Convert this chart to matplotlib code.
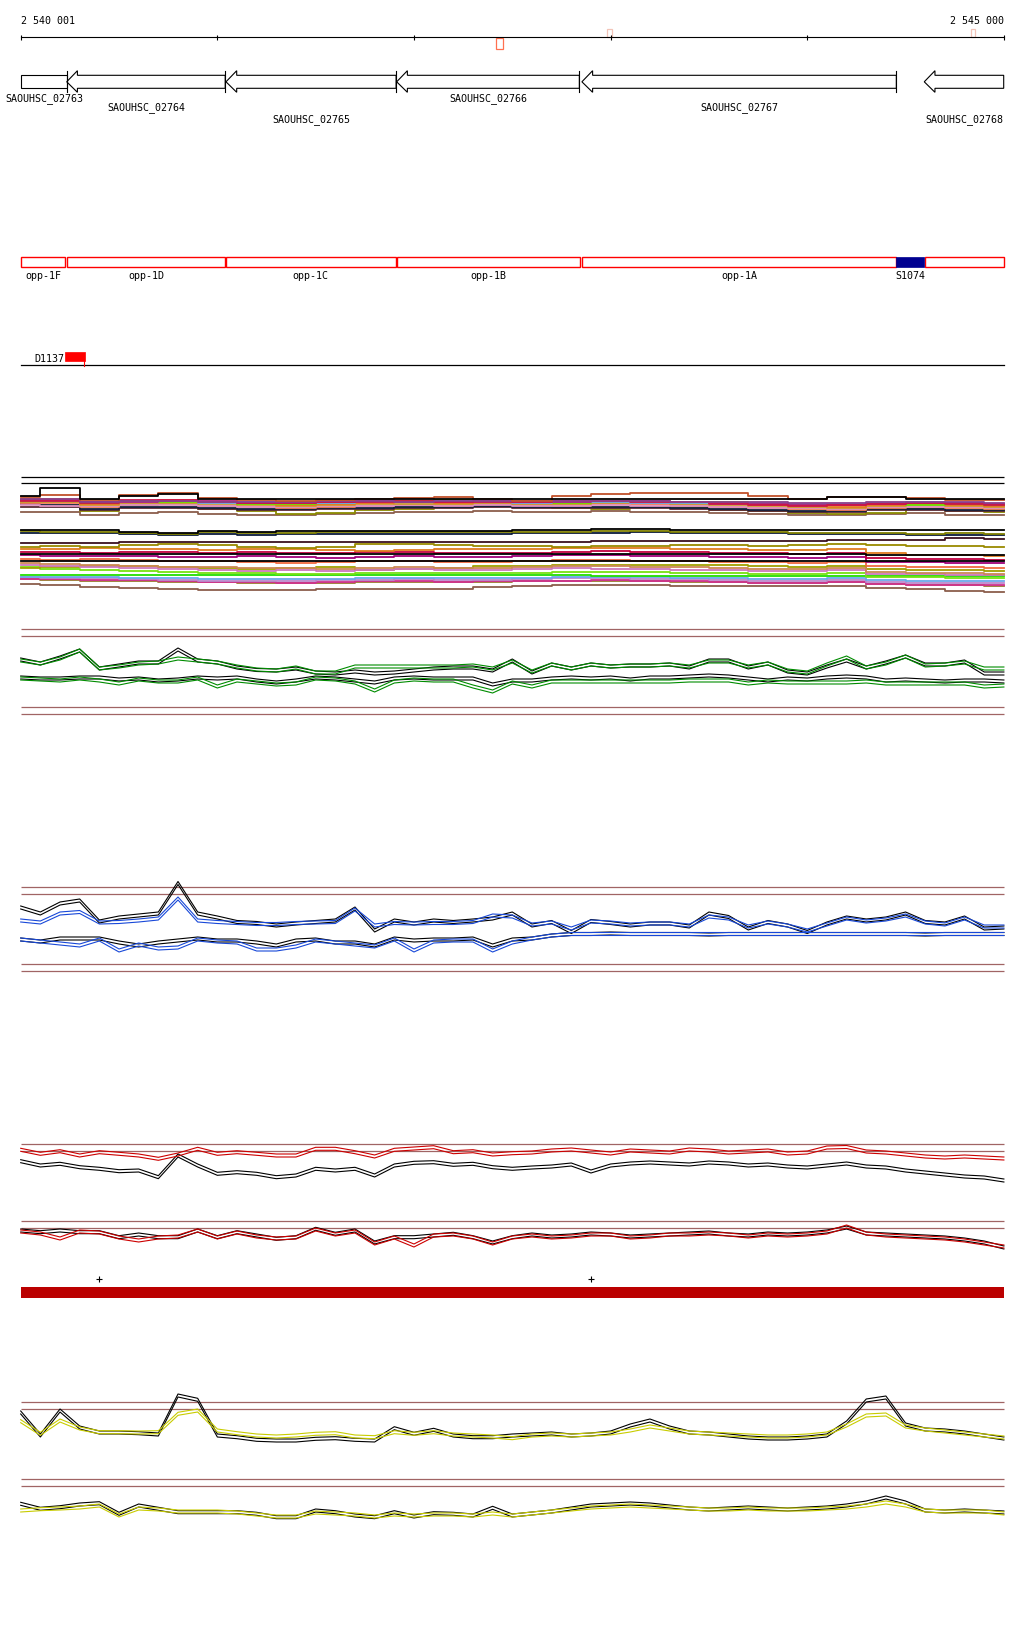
import numpy as np
import matplotlib
matplotlib.use('Agg')
import matplotlib.pyplot as plt
from matplotlib.patches import Polygon, Rectangle
from matplotlib.transforms import offset_copy

# ---- view window ----
W, H = 1024, 1640
VIEW_START, VIEW_END = 2540001, 2545000
PX0, PX1 = 20.7, 1003.7          # where the view starts / ends on the page
bp_per_px = (VIEW_END - VIEW_START) / (PX1 - PX0)
XMIN = VIEW_START - PX0 * bp_per_px
XMAX = XMIN + W * bp_per_px

# ---- annotation data ----
ruler_ticks = [2540001, 2541001, 2542001, 2543001, 2544001, 2545000]

gene_names = ['SAOUHSC_02763', 'SAOUHSC_02764', 'SAOUHSC_02765',
              'SAOUHSC_02766', 'SAOUHSC_02767', 'SAOUHSC_02768']
gene_starts = [2540001, 2540235, 2541045, 2541913, 2542855, 2544596]
gene_ends = [2540238, 2541041, 2541910, 2542842, 2544454, 2545000]

feat_names = ['opp-1F', 'opp-1D', 'opp-1C', 'opp-1B', 'opp-1A', '']
feat_starts = [2540001, 2540238, 2541043, 2541913, 2542857, 2544599]
feat_ends = [2540228, 2541041, 2541910, 2542844, 2544454, 2545000]
srna_name, srna_start, srna_end = 'S1074', 2544454, 2544595
dmark_name, dmark_start, dmark_end = 'D1137', 2540228, 2540328
plus_marks = [2540399, 2542901]

# ---- coloured expression band (every 200 bp) ----
cb_black_top = [27, 19, 29.5, 27, 25, 29.5, 29.5, 29.5, 29.5, 29.5, 29.5, 29.5, 29.5, 29.5, 29.5, 29.5, 29.5, 29.5, 29.5, 29.5, 29.5, 27.5, 27.5, 29.5, 29.5, 29.5]
cb_rust = [28, 26, 31, 26, 24, 29, 31, 32, 31, 30, 29, 28, 30, 32, 27, 25, 23.5, 23.5, 24, 27, 30, 28, 28, 29, 31, 31]
cb_olive = [33, 32, 42, 36, 35, 40, 42, 45, 44, 41, 40, 38, 36, 37, 39, 40, 38, 38, 41, 42, 44, 45, 44, 39, 42, 43]
cb_brown = [43, 43, 46, 44, 43, 45, 46, 46, 45, 44, 43, 43, 42, 43, 43, 42, 43, 43, 44, 45, 46, 46, 45, 44, 46, 46]
cb_orange = [30, 30, 35, 32, 31, 33, 35, 36, 35, 34, 33, 34, 33, 34, 34, 33, 32, 33, 35, 36, 37, 38, 36, 35, 36, 37]
cb_magenta = [31, 31, 33, 33, 32, 32, 34, 34, 33, 32, 33, 33, 32, 33, 33, 32, 32, 33, 34, 35, 36, 36, 35, 34, 34, 35]
cb_lime = [32, 31, 34, 32, 33, 33, 35, 35, 34, 33, 32, 31, 32, 33, 34, 33, 33, 34, 33, 35, 36, 35, 34, 36, 35, 36]
cb_sky = [31, 32, 33, 33, 32, 34, 33, 34, 34, 33, 33, 32, 33, 34, 33, 33, 34, 34, 35, 34, 35, 35, 34, 33, 34, 35]
cb_purple = [30, 30, 33, 32, 32, 33, 33, 33, 32, 32, 33, 32, 32, 32, 32, 32, 32, 33, 33, 33, 34, 34, 33, 33, 33, 34]
cb_salmon = [34, 34, 38, 35, 34, 37, 38, 39, 38, 37, 36, 36, 35, 36, 36, 35, 35, 36, 38, 39, 40, 41, 39, 38, 39, 40]
cb_navy = [35, 36, 40, 38, 38, 39, 40, 40, 39, 39, 38, 38, 37, 38, 38, 38, 38, 39, 40, 41, 42, 42, 40, 40, 41, 41]
cb_pink = [36, 37, 37, 36, 36, 37, 38, 38, 37, 37, 36, 37, 36, 37, 37, 36, 37, 37, 38, 39, 39, 40, 38, 38, 38, 39]
cb_gold = [33, 33, 36, 34, 34, 35, 36, 37, 36, 35, 35, 35, 34, 35, 35, 34, 34, 35, 36, 37, 38, 39, 37, 36, 37, 38]
cb_crimson = [32, 32, 34, 31, 31, 33, 34, 34, 33, 33, 32, 33, 33, 33, 32, 32, 33, 33, 35, 36, 37, 36, 35, 34, 35, 36]
cb_maroon = [38, 38, 41, 39, 39, 40, 41, 41, 40, 40, 39, 39, 38, 39, 39, 39, 39, 40, 41, 42, 43, 43, 41, 41, 42, 42]

cl_black1 = [60.5, 61, 61, 63, 63.5, 62, 62.5, 61.5, 61.5, 62, 62, 62, 61.5, 61, 61, 60, 60, 60.5, 60.5, 61, 60.5, 61, 61, 61, 60.5, 61]
cl_olive = [62, 62.5, 63, 63.5, 64.5, 63, 64, 63.5, 63, 62.5, 63, 62.5, 62.5, 62.5, 62.5, 62, 62, 62.5, 63, 63, 63.5, 64, 64, 64.5, 64, 64.5]
cl_navy = [63.5, 64, 64, 64.5, 65.5, 65, 65.5, 65, 64.5, 65, 64.5, 65, 65, 64, 63.5, 63.5, 63, 63.5, 64, 64, 65, 65, 65, 66, 66, 66]
cl_maroon = [74, 74, 74, 73, 73, 73, 73, 73, 72.5, 72.5, 73, 73, 73, 73, 73, 72, 72, 71.5, 71.5, 72, 72, 71, 71, 70.5, 69, 70]
cl_olive2 = [78, 77, 78, 76, 75, 76, 78, 79, 78, 75, 75, 76, 77, 77, 78, 77, 77, 76, 76, 77, 76, 75, 76, 77, 77, 78]
cl_orange = [80, 80, 79, 80, 80, 81, 80, 80, 81, 82, 81, 80, 80, 80, 79, 79, 79, 80, 80, 81, 81, 80, 84, 86, 86, 87]
cl_crimson = [83, 83, 84, 83, 83, 84, 83, 84, 84, 83, 83, 84, 84, 84, 83, 82, 83, 83, 84, 84, 85, 84, 89, 90, 90, 91]
cl_black2 = [85, 85, 85, 85, 85, 85, 85, 85, 85, 85, 85, 85, 85, 85, 85, 85, 85, 85, 85, 85, 85, 85, 85.5, 85.5, 85.5, 85.5]
cl_magenta = [86, 87, 87, 87, 88, 88, 87, 88, 89, 88, 87, 88, 88, 87, 86, 86, 87, 87, 88, 88, 89, 88, 93, 93, 94, 94]
cl_black3 = [92, 92, 92, 92, 92, 92, 92, 92, 92, 92, 92, 92, 92, 92, 92, 92, 92, 92, 92, 92, 92, 92, 92, 92, 92, 92]
cl_salmon = [90, 91, 90, 91, 92, 92, 93, 94, 93, 92, 92, 93, 93, 92, 91, 91, 92, 92, 93, 93, 94, 93, 97, 98, 98, 99]
cl_lime = [98, 100, 101, 102, 103, 104, 104, 105, 105, 104, 104, 104, 104, 104, 103, 103, 103, 104, 104, 105, 105, 104, 108, 108, 109, 109]
cl_pink = [96, 97, 98, 99, 100, 101, 102, 101, 102, 101, 100, 101, 101, 100, 99, 100, 100, 101, 101, 102, 102, 101, 105, 105, 106, 106]
cl_olive3 = [99, 98, 97, 97, 98, 99, 100, 99, 98, 101, 100, 99, 97, 97, 96, 96, 96, 96, 96, 97, 98, 97, 100, 101, 101, 102]
cl_tan = [94, 95, 96, 97, 98, 98, 99, 99, 100, 99, 98, 99, 99, 98, 97, 97, 98, 98, 99, 100, 100, 99, 103, 104, 104, 105]
cl_green = [106, 106, 106, 106, 106, 106, 106, 106, 106, 106, 106, 106, 106, 106, 106, 106.5, 106.5, 106.5, 106.5, 106.5, 106.5, 106.5, 107, 107, 107, 107]
cl_sky = [108, 108, 108, 109, 109, 110, 110, 110, 110, 109, 109, 109, 109, 109, 108, 108, 108, 109, 109, 110, 110, 109, 111, 112, 112, 112]
cl_lavender = [108, 109, 109, 110, 111, 112, 112, 112, 111, 111, 110, 111, 111, 110, 109, 109, 110, 110, 111, 112, 112, 111, 113, 114, 114, 114]
cl_brown = [115, 116, 118, 119, 120, 121, 121, 121, 120, 120, 120, 120, 118, 117, 116, 116, 116, 117, 117, 117, 117, 117, 119, 120, 122, 123]
cl_ochre = [110, 111, 112, 112, 113, 113, 114, 114, 114, 113, 113, 113, 113, 112, 112, 112, 112, 113, 113, 114, 114, 113, 115, 116, 116, 117]
cl_magenta2 = [110, 110, 111, 111, 112, 113, 113, 114, 113, 112, 112, 113, 112, 112, 112, 111, 112, 112, 113, 114, 114, 113, 115, 116, 116, 116]

# ---- profile tracks (every 100 bp, depth in px from track top) ----
green_up_k = [39, 43, 37, 30, 48, 45, 42, 42, 29, 40, 42, 47, 49.5, 50, 48, 52, 53, 51, 53, 52, 50, 48, 47, 47, 50, 40, 52, 44, 48, 44, 46, 45, 45, 44, 47, 40, 40, 47, 43, 51, 53, 46, 40, 47, 42, 36, 44, 44, 41, 53, 53]
green_up_c = [40, 43, 38, 30, 48, 46, 43, 42, 38, 40, 42, 46, 49, 50, 47, 52, 52, 46, 46, 46, 46, 46, 46, 45, 48, 41, 51, 44, 48, 44, 46, 45, 45, 44, 46, 41, 41, 46, 43, 50, 52, 44, 37, 47, 43, 36, 45, 44, 42, 48, 48]
green_lo_k = [57, 58, 58, 57, 57, 59, 58, 60, 59, 57, 58, 57, 60, 62, 60, 57, 58, 60, 62, 58, 57, 58, 58, 58, 64, 60, 60, 58, 57, 58, 57, 59, 57, 57, 56, 55, 56, 58, 60, 58, 59, 57, 56, 57, 60, 59, 60, 61, 60, 60, 61]
green_lo_c = [58, 59, 60, 58, 60, 63, 59, 61, 61, 58, 66, 60, 62, 64, 63, 58, 59, 62, 70, 61, 59, 60, 60, 66, 71, 62, 66, 61, 61, 61, 61, 61, 61, 61, 60, 60, 60, 63, 61, 62, 62, 62, 62, 61, 63, 63, 63, 63, 63, 66, 65]

blue_up_k = [37, 43, 33, 30, 51, 47, 45, 43, 12.5, 43, 47, 51.5, 52.5, 55, 53, 51.5, 50, 38, 60, 50, 53, 50, 51.5, 50, 48, 43, 55, 51.5, 61.5, 50.5, 52.5, 55, 53, 53, 56, 43, 46.5, 58, 51.5, 55, 61.5, 53, 47, 50, 48, 43, 51.5, 53, 47, 58, 57]
blue_up_c = [50, 52, 43, 41.5, 52, 51.5, 50, 48, 28, 50, 51.5, 52.5, 53.5, 53.5, 52.5, 52, 51.5, 39, 55, 52.5, 53, 52.5, 52.5, 51.5, 45, 46, 54, 52, 58, 51, 52, 54, 53, 53, 55, 46, 48, 56, 52, 55, 60, 54, 48, 51, 49, 45, 52, 54, 48, 56, 56]
blue_lo_k = [69, 71, 68, 68, 68, 72, 75, 72, 70, 68, 70, 70, 72, 75, 70, 69, 72, 72, 75, 68, 70, 69, 69, 68, 75, 69, 68, 65, 63.5, 63.5, 63, 63.5, 63.5, 63.5, 63.5, 64, 63.5, 63.5, 63.5, 63.5, 63.5, 63.5, 63.5, 63.5, 63.5, 63.5, 64, 63.5, 63.5, 63.5, 63.5]
blue_lo_c = [69, 71, 73, 75, 69, 80, 74, 78, 77, 69, 71, 72, 79, 79, 76, 70, 72, 74, 76, 69, 80, 71, 70, 70, 80, 72, 68, 65, 63.5, 63.5, 63.5, 63.5, 63.5, 63.5, 63.5, 63.5, 63.5, 63.5, 63.5, 63.5, 63.5, 63.5, 63.5, 63.5, 63.5, 63.5, 63.5, 63.5, 63.5, 63.5, 63.5]

red_up_c = [19.3, 23.3, 20.7, 25, 21.7, 23.3, 25, 28.3, 24, 18.3, 23.3, 21.7, 23.3, 25, 25, 18.3, 18.3, 21.7, 26, 19.3, 18, 16.7, 21.7, 20.7, 24, 22.7, 22, 20, 19, 21, 23, 20, 21, 22, 19, 20, 22, 21, 20, 23, 22, 17, 16.5, 21, 22, 24, 26, 27, 26, 27, 28]
red_up_k = [30.7, 35, 33.3, 36.7, 38.3, 40.7, 40, 46.7, 25, 35, 43.3, 41.7, 43.3, 46.7, 45, 38.3, 40, 38.3, 45, 35, 32.3, 31.7, 34.3, 33.3, 36.7, 38.3, 37, 36, 34, 41, 35, 33, 32, 33, 34, 32, 33, 35, 34, 36, 37, 35, 33, 36, 37, 40, 42, 44, 46, 47, 50]
red_lo_k = [100, 101.7, 100, 101.7, 101.7, 106.7, 104, 106.7, 106.7, 100, 106.7, 101.7, 105, 108.3, 106.7, 98.3, 103.3, 100, 112, 106.7, 106.7, 105, 103.3, 106.7, 112, 106.7, 104, 106, 105, 103, 104, 106, 105, 104, 103, 102, 104, 105, 103, 104, 103, 101, 97, 103, 104, 105, 106, 107, 109, 112, 117]
red_lo_c = [101, 103, 108, 101, 102, 107, 110, 107, 106, 100, 107, 102, 106, 108, 107, 99, 104, 101, 113, 107, 115, 105, 104, 107, 113, 107, 105, 107, 106, 104, 104, 107, 106, 104, 104, 103, 104, 106, 104, 105, 104, 102, 96, 103, 105, 106, 107, 108, 110, 113, 116]

yel_up_k = [32, 55, 30, 47, 52, 52, 52.7, 54, 15, 19.3, 55, 56.7, 59.3, 60, 60, 58.3, 57.7, 59.3, 60, 47.7, 53.3, 49.3, 55, 56.7, 56.7, 55, 54, 53, 55, 54, 52, 45, 40, 47, 52, 53, 55, 57, 58, 58, 57, 55, 42, 20, 17, 44, 49, 50, 52, 55, 58]
yel_up_c = [40.7, 53.3, 40, 48, 51.7, 51.7, 52, 51.7, 33.3, 30, 50, 52.7, 55, 56, 55, 53.3, 52.7, 56, 56.7, 51.7, 53.3, 51.7, 54, 55, 56, 57.7, 55, 54, 55, 54, 53, 50, 46, 49, 52, 53, 54, 55, 56, 56, 55, 53, 45, 35, 34, 46, 49, 51, 53, 55, 57]
yel_lo_k = [123.3, 128.3, 126.7, 124, 122.7, 133.3, 125, 128.3, 131.7, 131.7, 131.7, 131.7, 133.3, 136.7, 136.7, 130, 131.7, 135, 136.7, 131.7, 136, 132.7, 133.3, 135, 127.3, 135, 133, 131, 128, 125, 124, 123, 124, 126, 128, 129, 128, 127, 128, 129, 128, 127, 125, 122, 117, 122, 130, 131, 130, 131, 132]
yel_lo_c = [130, 128.7, 128, 127, 125, 135, 128, 129, 131, 131, 131, 132, 134, 136, 136, 132, 133, 134, 136, 134, 135, 134, 134, 135, 133, 135, 133, 131, 129, 127, 126, 125, 126, 127, 128, 129, 129, 128, 129, 129, 129, 128, 127, 125, 122, 125, 130, 131, 131, 131, 133]

x_band = np.linspace(VIEW_START, VIEW_START + 5000, 26)
x_prof = np.linspace(VIEW_START, VIEW_START + 5000, 51)

FONT = dict(family='DejaVu Sans Mono', fontsize=7.2, color='black')
GUIDE = '#a06464'

fig = plt.figure(figsize=(W / 100, H / 100), dpi=100)


def band(top, bottom):
    ax = fig.add_axes([0, 1 - bottom / H, 1, (bottom - top) / H])
    ax.set_xlim(XMIN, XMAX)
    ax.set_ylim(bottom - top, 0)
    ax.axis('off')
    return ax


# ---- ruler, genes, features ----
ax = band(0, 400)
ax.plot([VIEW_START, VIEW_END], [38.3, 38.3], color='k', lw=0.8)
ax.vlines(ruler_ticks, 36, 40.6, color='k', lw=0.8)
ax.text(VIEW_START, 24, '2 540 001', ha='left', va='baseline', **FONT)
ax.text(VIEW_END, 24, '2 545 000', ha='right', va='baseline', **FONT)
ax.add_patch(Rectangle((2542418, 38.5), 36, 11.5, fill=False, ec='#ff7050', lw=0.9))
ax.add_patch(Rectangle((2542983, 30), 25, 8, fill=False, ec='#f2c4b8', lw=0.9))
ax.add_patch(Rectangle((2544834, 30), 20, 8, fill=False, ec='#f2c4b8', lw=0.9))

head = 10.7 * bp_per_px
label_rows = [101, 110, 122]
for k, (name, s, e) in enumerate(zip(gene_names, gene_starts, gene_ends)):
    top, bot, mid = 76.3, 89.3, 82.8
    if s > VIEW_START:
        h = s + head
        pts = [(s, mid), (h, 71.7), (h, top), (e, top), (e, bot), (h, bot), (h, 93.3)]
    else:
        pts = [(s, top), (e, top), (e, bot), (s, bot)]
    ax.add_patch(Polygon(pts, closed=True, fill=False, ec='k', lw=0.8))
    if e < VIEW_END:
        ax.plot([e, e], [71.7, 93.3], color='k', lw=0.8)
    ax.text((s + e) / 2, label_rows[k % 3], name, ha='center', va='baseline', **FONT)

for name, s, e in zip(feat_names, feat_starts, feat_ends):
    ax.add_patch(Rectangle((s, 258.3), e - s, 10, fill=False, ec='#ff0000', lw=1.0))
    if name:
        ax.text((s + e) / 2, 279.3, name, ha='center', va='baseline', **FONT)
ax.add_patch(Rectangle((srna_start, 258.3), srna_end - srna_start, 10,
                       fc='#000090', ec='#000090', lw=0.5))
ax.text((srna_start + srna_end) / 2, 279.3, srna_name, ha='center', va='baseline', **FONT)

ax.plot([VIEW_START, VIEW_END], [366, 366], color='k', lw=0.9)
ax.add_patch(Rectangle((dmark_start, 353.3), dmark_end - dmark_start, 8.7,
                       fc='#ff0000', ec='#ff0000', lw=0.5))
ax.plot([dmark_end - 4, dmark_end - 4], [362, 367], color='#ff0000', lw=0.8)
ax.text(dmark_start - 5, 362, dmark_name, ha='right', va='baseline', **FONT)

# ---- coloured band ----
ax = band(470, 600)
ax.hlines([8.3, 14.3], VIEW_START, VIEW_END, color='k', lw=0.9)
band_lines = [
    (cb_brown, '#8b5e4c'), (cb_olive, '#8b8b00'), (cb_maroon, '#5a2a35'),
    (cb_navy, '#14203c'), (cb_salmon, '#f27c55'), (cb_pink, '#e090c0'),
    (cb_gold, '#cc9a30'), (cb_orange, '#e6781e'), (cb_lime, '#6ee000'),
    (cb_sky, '#6ba8ea'), (cb_magenta, '#b0207a'), (cb_crimson, '#cc1448'),
    (cb_purple, '#8a3f8a'), (cb_rust, '#c0502a'), (cb_black_top, 'black'),
    (cl_brown, '#8b5e4c'), (cl_ochre, '#9a7a30'), (cl_magenta2, '#d03090'),
    (cl_lavender, '#bb88cc'), (cl_sky, '#6ba8ea'), (cl_green, '#22dd00'),
    (cl_lime, '#77e010'), (cl_olive3, '#a0a000'), (cl_pink, '#cc77bb'),
    (cl_tan, '#cc8855'), (cl_salmon, '#f06a40'), (cl_magenta, '#a0007a'),
    (cl_crimson, '#c00040'), (cl_orange, '#e07b20'), (cl_olive2, '#9a8a00'),
    (cl_maroon, '#3a1020'), (cl_navy, '#0a1a3a'), (cl_olive, '#808000'),
    (cl_black1, 'black'), (cl_black2, 'black'), (cl_black3, 'black'),
]
for vals, col in band_lines:
    ax.plot(x_band, vals, color=col, lw=1.3, drawstyle='steps-mid')


# ---- profile tracks ----
def profile_track(top, bottom, guides, series):
    ax = band(top, bottom)
    ax.hlines(guides, VIEW_START, VIEW_END, color=GUIDE, lw=0.9)
    shifted = offset_copy(ax.transData, fig=fig, x=0, y=-3, units='dots')
    for vals, col in series:
        ax.plot(x_prof, vals, color=col, lw=0.8)
        ax.plot(x_prof, vals, color=col, lw=0.8, transform=shifted)
    return ax


profile_track(620, 720, [10.3, 17.3, 88.3, 95.3],
              [(green_up_k, 'black'), (green_lo_k, 'black'),
               (green_up_c, '#008c00'), (green_lo_c, '#008c00')])
profile_track(870, 980, [18.3, 25.3, 95.3, 102.3],
              [(blue_up_k, 'black'), (blue_lo_k, 'black'),
               (blue_up_c, '#1848d8'), (blue_lo_c, '#1848d8')])
ax = profile_track(1130, 1310, [15.3, 22.3, 92.3, 99.3],
                   [(red_up_k, 'black'), (red_lo_k, 'black'),
                    (red_up_c, '#cc0000'), (red_lo_c, '#cc0000')])
ax.plot(plus_marks, [150.3] * len(plus_marks), '+', color='k', ms=5, mew=0.8)
ax.add_patch(Rectangle((VIEW_START, 158), VIEW_END - VIEW_START, 10.7,
                       fc='#bb0000', ec='none'))
profile_track(1380, 1530, [23.3, 30.3, 100, 107.3],
              [(yel_up_k, 'black'), (yel_lo_k, 'black'),
               (yel_up_c, '#c8cc00'), (yel_lo_c, '#c8cc00')])

fig.savefig('out.png', dpi=100, facecolor='white')
